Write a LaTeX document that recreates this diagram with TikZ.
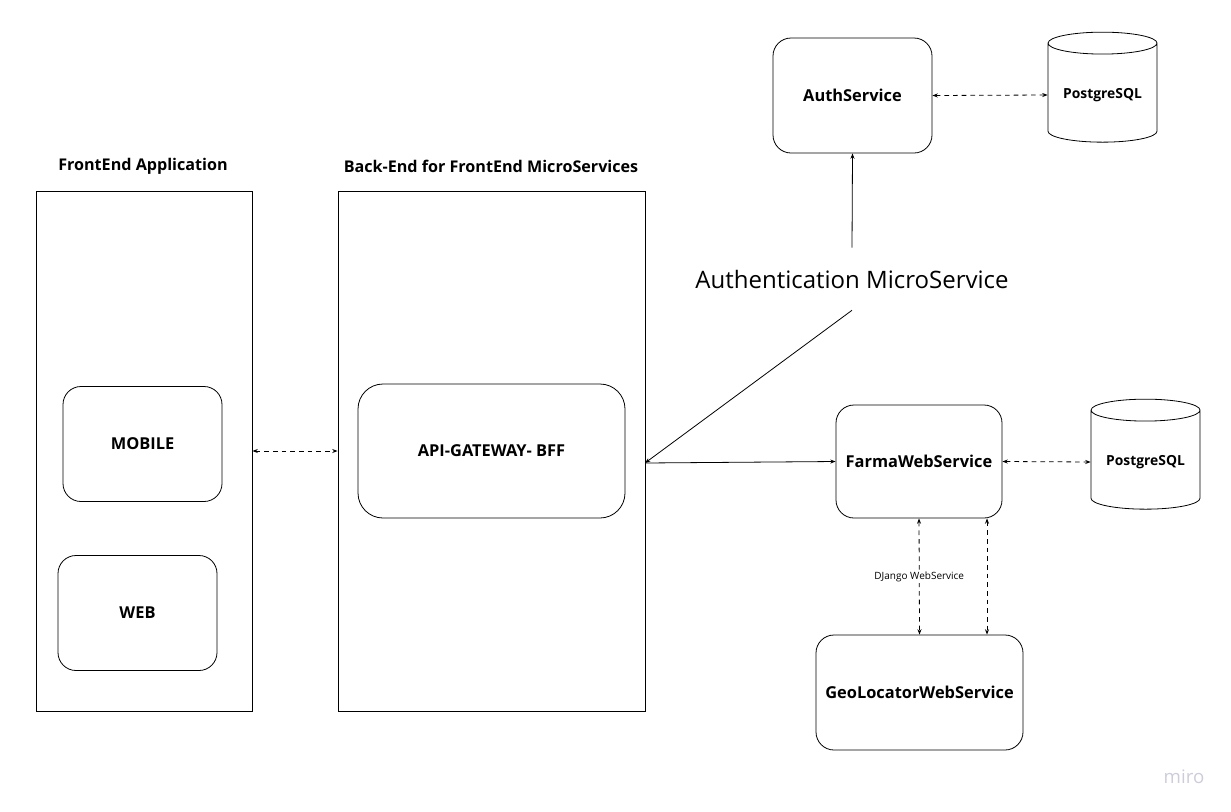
\documentclass[tikz,border=0pt]{standalone}
\usepackage{fontspec}
\setmainfont{Open Sans}
\usetikzlibrary{arrows.meta,shapes.geometric}
\definecolor{mirogray}{RGB}{205,205,218}
\tikzset{
  panel/.style={draw, line width=0.7pt, minimum height=390pt},
  box/.style={draw, line width=0.6pt, minimum width=119.25pt, minimum height=86.25pt, rounded corners=13.5pt, font=\bfseries\fontsize{12.3}{14}\selectfont},
  title/.style={font=\bfseries\fontsize{12.1}{14}\selectfont},
  db/.style={cylinder, shape border rotate=90, draw, line width=0.6pt, aspect=0.25, minimum width=81.75pt, minimum height=82.5pt, font=\bfseries\fontsize{10.4}{12}\selectfont},
  link/.style={-{Stealth[length=4pt,width=3pt]}, line width=0.6pt},
  dlink/.style={{Stealth[length=4pt,width=3pt]}-{Stealth[length=4pt,width=3pt]}, dash pattern=on 3.5pt off 3pt, line width=0.6pt}
}
\begin{document}
\begin{tikzpicture}[x=0.75pt,y=-0.75pt]
\useasboundingbox (0,0) rectangle (1231,811);
% containers
\node[panel, minimum width=162pt] (front) at (144,451) {};
\node[panel, minimum width=230.25pt] (back) at (491.5,451) {};
\node[title] (fronttitle) at (143,166) {FrontEnd Application};
\node[title] (backtitle) at (491,166) {Back-End for FrontEnd MicroServices};
\node[box] (mobile) at (142.5,444) {MOBILE};
\node[box] (web) at (137.5,613) {WEB};
\node[box, minimum width=200.25pt, minimum height=100.5pt, rounded corners=18.75pt] (gateway) at (491.5,451) {API-GATEWAY- BFF};
% services
\node[box] (auth) at (852.5,95.5) {AuthService};
\node[db] (pg1) at (1102.5,95) {PostgreSQL};
\node[font=\fontsize{18}{21}\selectfont, minimum height=46.5pt] (authlabel) at (852,279) {Authentication MicroService};
\node[box, minimum width=124.5pt, minimum height=84.75pt] (farma) at (919,461.5) {FarmaWebService};
\node[db] (pg2) at (1145.5,462) {PostgreSQL};
\node[box, minimum width=155.25pt] (geo) at (919.5,692.5) {GeoLocatorWebService};
\coordinate (bffport) at (645,463);
% connectors
\draw[dlink] (front.east) -- (back.west);
\draw[dlink] (auth.east) -- (pg1.west);
\draw[link] (authlabel.north) -- (auth.south);
\draw[link] (authlabel.south) -- (bffport);
\draw[link] (bffport) -- (farma.west);
\draw[dlink] (farma.east) -- (pg2.west);
\draw[dlink] (farma.south) -- node[fill=white, inner sep=1pt, font=\fontsize{7.5}{9}\selectfont] {DJango WebService} (geo.north);
\draw[dlink] ([xshift=51pt]farma.south) -- ([xshift=51pt]farma.south |- geo.north);
\node[text=mirogray, font=\fontsize{14}{16}\selectfont] (miro) at (1184,777) {miro};
\end{tikzpicture}
\end{document}
